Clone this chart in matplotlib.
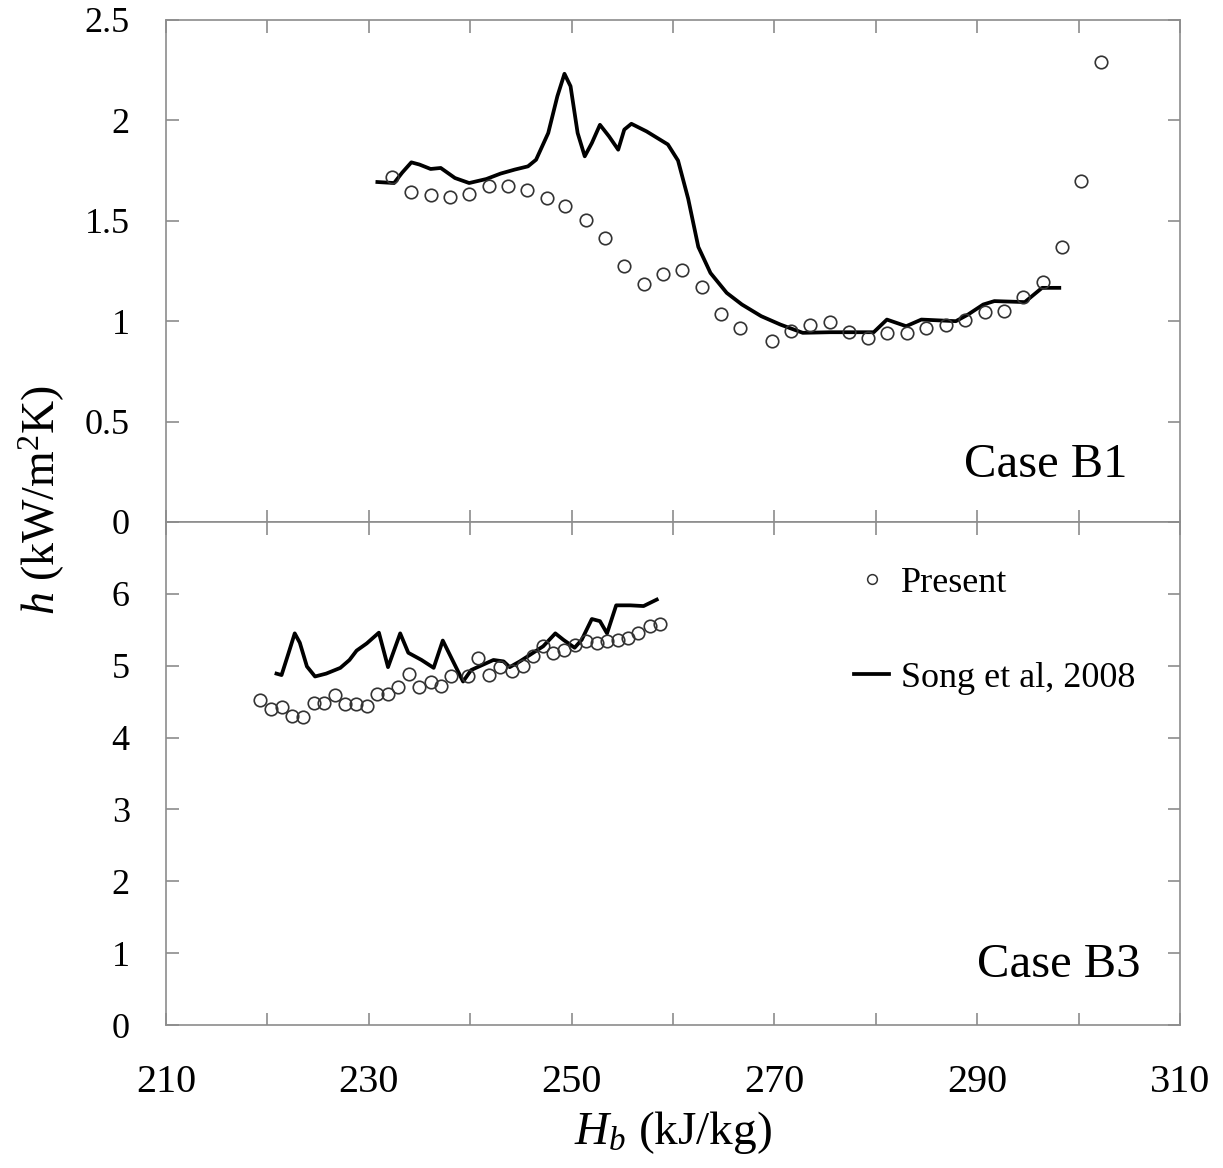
import numpy as np
import matplotlib.pyplot as plt
from matplotlib.lines import Line2D

plt.rcParams['font.family'] = ['Liberation Serif', 'DejaVu Serif']
plt.rcParams['mathtext.fontset'] = 'custom'
plt.rcParams['mathtext.rm'] = 'Liberation Serif'
plt.rcParams['mathtext.it'] = 'Liberation Serif:italic'

# Case B1 - present model (circles)
b1_present_x = [232.3, 234.2, 236.1, 238.0, 239.9, 241.9, 243.7, 245.6, 247.6, 249.4,
                251.4, 253.3, 255.2, 257.1, 259.0, 260.9, 262.9, 264.7, 266.6, 269.8,
                271.6, 273.5, 275.5, 277.4, 279.2, 281.1, 283.1, 285.0, 286.9, 288.8,
                290.8, 292.6, 294.5, 296.5, 298.4, 300.2, 302.2]
b1_present_h = [1.72, 1.645, 1.627, 1.62, 1.632, 1.675, 1.675, 1.653, 1.612, 1.575,
                1.502, 1.415, 1.274, 1.187, 1.235, 1.257, 1.171, 1.038, 0.967, 0.899,
                0.950, 0.983, 0.997, 0.945, 0.917, 0.939, 0.942, 0.967, 0.983, 1.008,
                1.048, 1.052, 1.119, 1.196, 1.370, 1.698, 2.290]

# Case B1 - Song et al, 2008 (line)
b1_song_x = [230.85, 232.5, 233.3, 234.2, 235.0, 236.1, 237.1, 238.5, 239.9, 241.6,
             243.0, 244.4, 245.7, 246.5, 247.7, 248.6, 249.3, 249.9, 250.6, 251.3,
             252.0, 252.8, 253.7, 254.6, 255.2, 255.9, 257.4, 259.5, 260.5, 261.5,
             262.5, 263.7, 265.3, 266.8, 268.7, 270.6, 272.8, 275.5, 279.8, 281.1,
             283.0, 284.5, 287.9, 289.1, 290.6, 291.7, 294.7, 296.4, 298.1]
b1_song_h = [1.693, 1.688, 1.74, 1.791, 1.78, 1.758, 1.763, 1.713, 1.688, 1.708,
             1.735, 1.755, 1.771, 1.804, 1.937, 2.12, 2.232, 2.17, 1.937, 1.821,
             1.887, 1.978, 1.92, 1.854, 1.954, 1.983, 1.945, 1.88, 1.80, 1.61,
             1.37, 1.24, 1.141, 1.083, 1.025, 0.983, 0.942, 0.945, 0.945, 1.008,
             0.975, 1.008, 1.0, 1.033, 1.083, 1.10, 1.095, 1.166, 1.166]

# Case B3 - present model (circles)
b3_present_x = [219.3, 220.4, 221.4, 222.4, 223.5, 224.6, 225.6, 226.7, 227.7, 228.7,
                229.8, 230.8, 231.9, 232.9, 234.0, 235.0, 236.1, 237.1, 238.1, 239.8,
                240.8, 241.9, 242.9, 244.1, 245.2, 246.2, 247.2, 248.2, 249.3, 250.3,
                251.4, 252.5, 253.5, 254.6, 255.6, 256.6, 257.7, 258.7]
b3_present_h = [4.52, 4.40, 4.42, 4.30, 4.29, 4.48, 4.48, 4.59, 4.47, 4.47,
                4.44, 4.60, 4.61, 4.71, 4.88, 4.70, 4.78, 4.72, 4.86, 4.86,
                5.11, 4.87, 4.98, 4.93, 5.00, 5.13, 5.28, 5.17, 5.22, 5.29,
                5.35, 5.31, 5.34, 5.36, 5.39, 5.46, 5.55, 5.58]

# Case B3 - Song et al, 2008 (line)
b3_song_x = [220.9, 221.4, 222.1, 222.7, 223.2, 223.9, 224.7, 225.8, 227.2, 228.1,
             228.8, 229.8, 231.0, 231.9, 233.1, 233.9, 235.2, 236.4, 237.3, 239.3,
             240.1, 242.3, 243.3, 243.9, 244.9, 247.2, 248.4, 249.2, 250.3, 251.0,
             252.0, 252.8, 253.5, 254.4, 255.8, 257.1, 258.4]
b3_song_h = [4.89, 4.87, 5.18, 5.45, 5.32, 4.99, 4.85, 4.89, 4.97, 5.08,
             5.21, 5.31, 5.46, 4.98, 5.45, 5.18, 5.08, 4.97, 5.35, 4.78,
             4.94, 5.08, 5.06, 4.98, 5.06, 5.27, 5.45, 5.36, 5.25, 5.36,
             5.65, 5.62, 5.45, 5.84, 5.84, 5.83, 5.92]

x_major = [210, 230, 250, 270, 290, 310]
x_minor = [220, 240, 260, 280, 300]
b1_yticks = [0, 0.5, 1, 1.5, 2, 2.5]
b1_ylabels = ['0', '0.5', '1', '1.5', '2', '2.5']
b3_yticks = [0, 1, 2, 3, 4, 5, 6, 7]
b3_ylabels = ['0', '1', '2', '3', '4', '5', '6', '']

spine_col = '#8c8c8c'
circ_col = '#333333'

fig = plt.figure(figsize=(12.23, 11.68), dpi=100)
left, width = 0.1357, 0.8291
ax1 = fig.add_axes([left, 0.5531, width, 0.4298])
ax2 = fig.add_axes([left, 0.1224, width, 0.4307])


# shared look for both panels
def style_axis(ax):
    for s in ax.spines.values():
        s.set_color(spine_col)
        s.set_linewidth(1.2)
    ax.set_xlim(210, 310)
    ax.set_xticks(x_major)
    ax.set_xticks(x_minor, minor=True)
    ax.tick_params(which='both', direction='in', length=9, width=1.2, color=spine_col,
                   top=True, right=True)
    ax.tick_params(axis='y', pad=26, labelsize=26)
    ax.tick_params(axis='x', pad=28, labelsize=29)


style_axis(ax1)
ax1.set_ylim(0, 2.5)
ax1.set_yticks(b1_yticks)
ax1.set_yticklabels(b1_ylabels)
ax1.tick_params(axis='x', labelbottom=False)
ax1.plot(b1_song_x, b1_song_h, color='black', lw=2.7, solid_joinstyle='round')
ax1.plot(b1_present_x, b1_present_h, 'o', ms=9, mfc='none', mec=circ_col, mew=1.2)
ax1.text(0.948, 0.114, 'Case B1', transform=ax1.transAxes, ha='right', va='center',
         fontsize=35)

style_axis(ax2)
ax2.set_ylim(0, 7)
ax2.set_yticks(b3_yticks)
ax2.set_yticklabels(b3_ylabels)
ax2.plot(b3_song_x, b3_song_h, color='black', lw=2.7, solid_joinstyle='round')
ax2.plot(b3_present_x, b3_present_h, 'o', ms=9, mfc='none', mec=circ_col, mew=1.2)
ax2.text(0.961, 0.119, 'Case B3', transform=ax2.transAxes, ha='right', va='center',
         fontsize=35)

handles = [Line2D([], [], ls='none', marker='o', ms=7, mfc='none', mec=circ_col, mew=1.1),
           Line2D([], [], color='black', lw=2.7)]
ax2.legend(handles, ['Present', 'Song et al, 2008'], loc='upper left',
           bbox_to_anchor=(0.679, 0.912), frameon=False, fontsize=26, borderpad=0,
           borderaxespad=0, labelspacing=1.72, handlelength=0.95, handletextpad=0.35)

ax2.set_xlabel(r'$H_b$ (kJ/kg)', fontsize=34, labelpad=6)
fig.text(0.034, 0.572, r'$h$ (kW/m$^2$K)', rotation=90, ha='center', va='center',
         fontsize=33)

fig.savefig('out.png', dpi=100)
